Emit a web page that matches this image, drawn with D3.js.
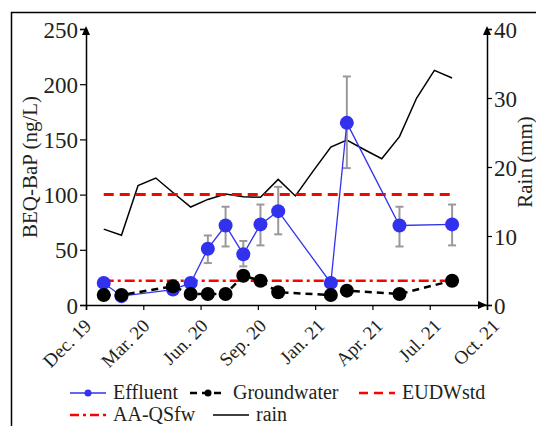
<!DOCTYPE html>
<html>
<head>
<meta charset="utf-8">
<script src="https://cdn.jsdelivr.net/npm/d3@7"></script>
<style>
  body { margin: 0; background: #fff; }
</style>
</head>
<body>
<div id="chart"></div>
<script>
// sampling months (effluent + groundwater)
const sampleDates = ["2020-01", "2020-02", "2020-05", "2020-06", "2020-07", "2020-08", "2020-09",
  "2020-10", "2020-11", "2021-02", "2021-03", "2021-06", "2021-09"];
const effluent = [20, 8, 14, 20, 51, 72, 46, 73, 85, 20, 165, 72, 73];
const effLow = [null, null, null, null, 38, 53, 35, 54, 64, null, 124, 53, 54];
const effHigh = [null, null, null, null, 63, 89, 58, 91, 107, null, 207, 89, 91];
const groundwater = [9, 9, 17, 10, 10, 10, 26.5, 22, 11.5, 9, 13, 10, 22];

// monthly rain
const rainDates = ["2020-01", "2020-02", "2020-03", "2020-04", "2020-05", "2020-06", "2020-07",
  "2020-08", "2020-09", "2020-10", "2020-11", "2020-12", "2021-01", "2021-02", "2021-03",
  "2021-04", "2021-05", "2021-06", "2021-07", "2021-08", "2021-09"];
const rain = [11.0, 10.1, 17.3, 18.4, 16.3, 14.2, 15.3, 16.1, 15.7, 15.6, 18.2, 15.8, 19.4,
  22.9, 23.9, 22.5, 21.2, 24.4, 30.0, 34.0, 32.9];

const EUDWstd = 100;
const AAQSfw = 22;

const xLabels = ["Dec. 19", "Mar. 20", "Jun. 20", "Sep. 20", "Jan. 21", "Apr. 21", "Jul. 21", "Oct. 21"];
const yTicks = [0, 50, 100, 150, 200, 250];
const rainTicks = [0, 10, 20, 30, 40];

const width = 536, height = 426;
const pLeft = 86, pRight = 487, pTop = 29, pBottom = 305;
const blue = "#3232ee", red = "#ff0000";
const serif = '"Liberation Serif", "Times New Roman", serif';

const parse = d3.timeParse("%Y-%m");

const svg = d3.select("#chart").append("svg")
  .attr("width", width).attr("height", height);

// outer frame (runs off the picture on right and bottom)
svg.append("path")
  .attr("d", "M11.5,426 V12.5 H536")
  .attr("fill", "none").attr("stroke", "#000").attr("stroke-width", 1.5);

const x = d3.scaleTime()
  .domain([new Date(2019, 11, 1), new Date(2021, 10, 1)])
  .range([pLeft, pRight]);
const y = d3.scaleLinear().domain([0, 250]).range([pBottom, pTop]);
const yR = d3.scaleLinear().domain([0, 40]).range([pBottom, pTop]);

const samples = sampleDates.map((d, i) => ({
  date: parse(d), eff: effluent[i], lo: effLow[i], hi: effHigh[i], gw: groundwater[i]
}));
const rainData = rainDates.map((d, i) => ({ date: parse(d), v: rain[i] }));

// axes
const xTickVals = xLabels.map((_, i) => x.invert(pLeft + i * (pRight - pLeft) / (xLabels.length - 1)));

const gx = svg.append("g")
  .attr("transform", `translate(0,${pBottom})`)
  .call(d3.axisBottom(x).tickValues(xTickVals).tickSizeOuter(0).tickSize(5).tickFormat(""));
gx.selectAll(".tick text").remove();
gx.selectAll(".tick").append("text")
  .attr("transform", (d, i) => `translate(${6 + i},22) rotate(-45)`)
  .attr("text-anchor", "end")
  .attr("font-size", 19)
  .text((d, i) => xLabels[i]);

const gy = svg.append("g")
  .attr("transform", `translate(${pLeft},0)`)
  .call(d3.axisLeft(y).tickValues(yTicks).tickSizeOuter(0).tickSize(6).tickPadding(2));

const gyR = svg.append("g")
  .attr("transform", `translate(${pRight},0)`)
  .call(d3.axisRight(yR).tickValues(rainTicks).tickSizeOuter(0).tickSize(5).tickPadding(2));

[gx, gy, gyR].forEach(g => {
  g.select(".domain").attr("stroke", "#000").attr("stroke-width", 1.5);
  g.selectAll(".tick line").attr("stroke", "#000").attr("stroke-width", 1.2);
});
[gy, gyR].forEach(g => {
  g.selectAll(".tick text").attr("font-size", 23).attr("dy", "0.35em");
});

// arrow heads
const arrow = (pts) => svg.append("path").attr("d", "M" + pts.join("L") + "Z").attr("fill", "#000");
arrow([[pLeft, pTop - 3], [pLeft - 4, pTop + 6], [pLeft + 4, pTop + 6]]);
arrow([[pRight, pTop - 3], [pRight - 4, pTop + 6], [pRight + 4, pTop + 6]]);
arrow([[pRight, pBottom], [pRight - 9, pBottom - 4], [pRight - 9, pBottom + 4]]);

// axis titles
svg.append("text")
  .attr("transform", `translate(37,${(pTop + pBottom) / 2}) rotate(-90)`)
  .attr("text-anchor", "middle").attr("font-size", 21)
  .text("BEQ-BaP (ng/L)");
svg.append("text")
  .attr("transform", `translate(532,162) rotate(-90)`)
  .attr("text-anchor", "middle").attr("font-size", 21)
  .text("Rain (mm)");

// rain line
svg.append("path")
  .datum(rainData)
  .attr("fill", "none").attr("stroke", "#000").attr("stroke-width", 1.5)
  .attr("d", d3.line().x(d => x(d.date)).y(d => yR(d.v)));

// standards
const x0 = x(samples[0].date), x1 = x(samples[samples.length - 1].date);
svg.append("line")
  .attr("x1", x0).attr("x2", x1).attr("y1", y(EUDWstd)).attr("y2", y(EUDWstd))
  .attr("stroke", red).attr("stroke-width", 3).attr("stroke-dasharray", "10,6");
svg.append("line")
  .attr("x1", x0).attr("x2", x1).attr("y1", y(AAQSfw)).attr("y2", y(AAQSfw))
  .attr("stroke", red).attr("stroke-width", 2.5).attr("stroke-dasharray", "10,4,3,4");

// error bars
const eb = svg.append("g").attr("stroke", "#999").attr("stroke-width", 2);
samples.filter(d => d.lo != null).forEach(d => {
  const cx = x(d.date);
  eb.append("line").attr("x1", cx).attr("x2", cx).attr("y1", y(d.lo)).attr("y2", y(d.hi));
  eb.append("line").attr("x1", cx - 4).attr("x2", cx + 4).attr("y1", y(d.lo)).attr("y2", y(d.lo));
  eb.append("line").attr("x1", cx - 4).attr("x2", cx + 4).attr("y1", y(d.hi)).attr("y2", y(d.hi));
});

// effluent
svg.append("path")
  .datum(samples)
  .attr("fill", "none").attr("stroke", blue).attr("stroke-width", 1.3)
  .attr("d", d3.line().x(d => x(d.date)).y(d => y(d.eff)));
svg.append("g").selectAll("circle").data(samples).join("circle")
  .attr("cx", d => x(d.date)).attr("cy", d => y(d.eff)).attr("r", 7).attr("fill", blue);

// groundwater
svg.append("path")
  .datum(samples)
  .attr("fill", "none").attr("stroke", "#000").attr("stroke-width", 2.5)
  .attr("stroke-dasharray", "7,5")
  .attr("d", d3.line().x(d => x(d.date)).y(d => y(d.gw)));
svg.append("g").selectAll("circle").data(samples).join("circle")
  .attr("cx", d => x(d.date)).attr("cy", d => y(d.gw)).attr("r", 7).attr("fill", "#000");

// legend
const legendItems = [
  { label: "Effluent", color: blue, w: 1.3, dash: null, dot: true, lx: 70, ly: 393 },
  { label: "Groundwater", color: "#000", w: 2.5, dash: "7,5", dot: true, lx: 190, ly: 393 },
  { label: "EUDWstd", color: red, w: 2.5, dash: "9,6", dot: false, lx: 359, ly: 393 },
  { label: "AA-QSfw", color: red, w: 2.5, dash: "9,4,3,4", dot: false, lx: 70, ly: 415 },
  { label: "rain", color: "#000", w: 1.3, dash: null, dot: false, lx: 213, ly: 415 }
];
const lg = svg.append("g").selectAll("g").data(legendItems).join("g")
  .attr("transform", d => `translate(${d.lx},${d.ly})`);
lg.append("line")
  .attr("x1", 0).attr("x2", 36).attr("y1", 0).attr("y2", 0)
  .attr("stroke", d => d.color).attr("stroke-width", d => d.w)
  .attr("stroke-dasharray", d => d.dash);
lg.filter(d => d.dot).append("circle")
  .attr("cx", 18).attr("cy", 0).attr("r", 3.5).attr("fill", d => d.color);
lg.append("text")
  .attr("x", 43).attr("y", 6).attr("font-size", 20)
  .text(d => d.label);

// one serif face for every label
svg.selectAll("text")
  .style("font-family", serif)
  .style("fill", "#231f20");
</script>
</body>
</html>
